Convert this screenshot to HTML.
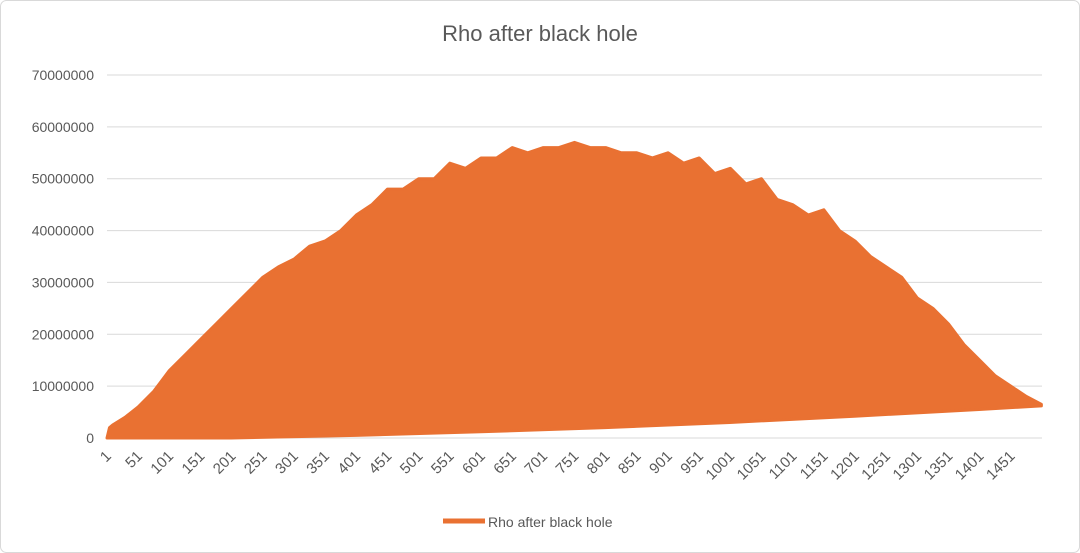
<!DOCTYPE html>
<html><head><meta charset="utf-8"><style>
body{margin:0;background:#fff;}
svg{display:block;font-family:"Liberation Sans",sans-serif;}
</style></head><body>
<svg width="1080" height="553">
<rect x="0.5" y="0.5" width="1079" height="552" rx="6" fill="#fff" stroke="#d9d9d9"/>
<text x="540" y="41" text-anchor="middle" font-size="22" fill="#595959">Rho after black hole</text>
<g id="grid"></g>
<g id="ylab"></g>
<g id="series"></g>
<g id="xlab"></g>
<g>
<line x1="443" y1="521" x2="485" y2="521" stroke="#e97132" stroke-width="5"/>
<text x="488" y="527" font-size="14" fill="#595959">Rho after black hole</text>
</g>
</svg>
<script>
const yTicks=[0,10000000,20000000,30000000,40000000,50000000,60000000,70000000];
const xCats=[1,51,101,151,201,251,301,351,401,451,501,551,601,651,701,751,801,851,901,951,1001,1051,1101,1151,1201,1251,1301,1351,1401,1451];
const envIdx=[1,5,10,30,51,76,101,126,151,176,201,226,251,276,301,326,351,376,401,426,451,476,501,526,551,576,601,626,651,676,701,726,751,776,801,826,851,876,901,926,951,976,1001,1026,1051,1076,1101,1126,1151,1176,1201,1226,1251,1276,1301,1326,1351,1376,1401,1426,1451,1476,1500];
const upper=[0,2,2.5,4,6,9,13,16,19,22,25,28,31,33,34.5,37,38,40,43,45,48,48,50,50,53,52,54,54,56,55,56,56,57,56,56,55,55,54,55,53,54,51,52,49,50,46,45,43,44,40,38,35,33,31,27,25,22,18,15,12,10,8,6.5];
const lowIdx=[1,200,400,600,800,1000,1200,1400,1500];
const lower=[0,0,0.5,1.2,2,3,4.2,5.5,6.2];
const ns="http://www.w3.org/2000/svg";
const X0=107,X1=1042,Y0=438,Y70=75;
const xs=i=>X0+(i-1)*(X1-X0)/1500;
const ys=v=>Y0-(v/70000000)*(Y0-Y70);
function mk(t,a,p){const e=document.createElementNS(ns,t);for(const k in a)e.setAttribute(k,a[k]);p.appendChild(e);return e;}
const g=document.getElementById('grid'),yl=document.getElementById('ylab'),xl=document.getElementById('xlab'),s=document.getElementById('series');
yTicks.forEach(v=>{
 const l=mk('line',{x1:X0,x2:X1,y1:ys(v),y2:ys(v),stroke:'#d9d9d9','stroke-width':1},g);
 
 
 const t=mk('text',{x:94,y:ys(v)+5,'text-anchor':'end','font-size':14,fill:'#595959'},yl);
 t.textContent=v;
 
 
});
xCats.forEach(c=>{
 const x=xs(c);
 const t=mk('text',{x:x+5,y:457,'text-anchor':'end','font-size':15,fill:'#595959',transform:`rotate(-45 ${x+5} 457)`},xl);
 t.textContent=c;
 
 
});
let pts=[];
envIdx.forEach((i,k)=>pts.push(xs(i)+','+ys(upper[k]*1e6)));
for(let k=lowIdx.length-1;k>=0;k--)pts.push(xs(lowIdx[k])+','+ys(lower[k]*1e6));
const poly=mk('polygon',{points:pts.join(' '),fill:'#e97132',stroke:'#e97132','stroke-width':3,'stroke-linejoin':'round'},s);


</script>
</body></html>
